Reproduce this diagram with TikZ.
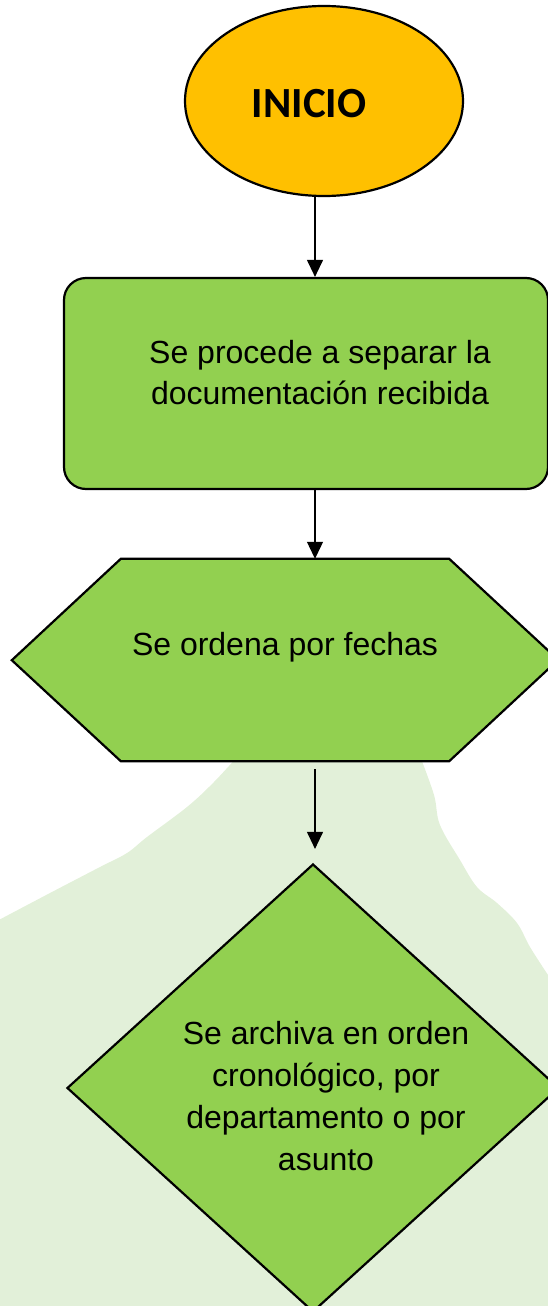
\documentclass[tikz,border=0pt]{standalone}
\usepackage{fontspec}
\setmainfont{Liberation Sans}
\newfontfamily\calibri{Carlito}
\usepackage{xcolor}
\usetikzlibrary{shapes.geometric,arrows.meta}

\definecolor{naranja}{HTML}{FFC000}
\definecolor{verde}{HTML}{92D050}
\definecolor{fondo}{HTML}{E2F0D9}

\begin{document}
\begin{tikzpicture}[x=1pt,y=-1pt,
  caja/.style={draw,line width=2.2pt,fill=verde,inner sep=0pt},
  flecha/.style={line width=1.1pt,-{Triangle[length=17pt,width=16pt]}},
  texto/.style={font=\fontsize{32}{42}\selectfont,align=center,anchor=base}]
  \useasboundingbox (0,0) rectangle (548,1306);
  % light green background blob
  \fill[fondo] plot[smooth,tension=0.6] coordinates {(238,756) (213,783) (187,807) (147,837) (127,853) (100,867) (50,893) (-5,922)}
    -- (-5,1320) -- (565,1320) -- (565,985)
    -- plot[smooth,tension=0.6] coordinates {(548,975) (530,947) (517,923) (497,903) (477,887) (460,860) (440,825) (434,795) (420,756)} -- cycle;
  % shapes
  \node[ellipse,draw,line width=2.2pt,fill=naranja,inner sep=0pt,minimum width=278,minimum height=190] (inicio) at (324,101) {};
  \node[caja,rounded corners=22pt,minimum width=484,minimum height=211] (separar) at (306,383.5) {};
  \node[inner sep=0pt,minimum width=328,minimum height=202] (orden) at (285,660) {};
  \filldraw[caja] (orden.north west) -- (orden.north east) -- ++(109,101) -- (orden.south east)
    -- (orden.south west) -- ++(-109,-101) -- cycle;
  \node[caja,diamond,minimum width=492,minimum height=448] (archiva) at (313,1088) {};
  % texts (base = last line)
  \node[font=\calibri\bfseries\fontsize{43}{50}\selectfont,anchor=base] (inicio-txt) at (309,117) {INICIO};
  \node[texto,font=\fontsize{32}{41}\selectfont] (separar-txt) at (320,404) {Se procede a separar la\\documentación recibida};
  \node[texto] (orden-txt) at (285,655) {Se ordena por fechas};
  \node[texto] (archiva-txt) at (326,1170) {Se archiva en orden\\cronológico, por\\departamento o por\\asunto};
  % arrows
  \coordinate (eje) at (315,0);
  \draw[flecha] (inicio.south -| eje) -- (separar.north -| eje);
  \draw[flecha] (separar.south -| eje) -- (orden.north -| eje);
  \draw[flecha,shorten <=8pt,shorten >=14pt] (orden.south -| eje) -- (archiva.north -| eje);
\end{tikzpicture}
\end{document}
